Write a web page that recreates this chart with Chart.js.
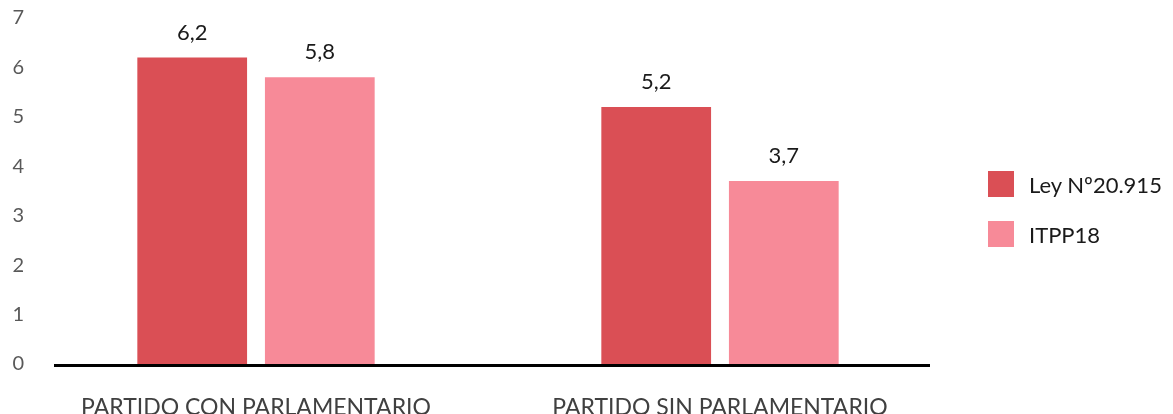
<!DOCTYPE html>
<html>
<head>
<meta charset="utf-8">
<script src="https://cdn.jsdelivr.net/npm/chart.js@4.4.1/dist/chart.umd.min.js"></script>
<style>
  body { margin: 0; background: #fff; }
  #wrap { position: relative; width: 1173px; height: 414px; }
  #legend { position: absolute; left: 988px; top: 171px; font-family: Lato, sans-serif; font-size: 22px; color: #1a1a1a; }
  .item { display: flex; align-items: center; height: 26px; margin-bottom: 24px; white-space: nowrap; }
  .sw { width: 26px; height: 26px; margin-right: 15px; }
</style>
</head>
<body>
<div id="wrap">
  <canvas id="chart" width="1173" height="414"></canvas>
  <div id="legend"></div>
</div>
<script>
// chart data
const categories = ['PARTIDO CON PARLAMENTARIO', 'PARTIDO SIN PARLAMENTARIO'];
const seriesNames = ['Ley Nº20.915', 'ITPP18'];
const leyValues = [6.2, 5.2];
const itppValues = [5.8, 3.7];
const colours = ['#DA4F55', '#F78A98'];

const FONT = 'Lato, sans-serif';

// value labels over each bar, with decimal comma
const valueLabels = {
  id: 'valueLabels',
  afterDatasetsDraw(chart) {
    const ctx = chart.ctx;
    ctx.save();
    ctx.font = '22px ' + FONT;
    ctx.fillStyle = '#1a1a1a';
    ctx.textAlign = 'center';
    ctx.textBaseline = 'middle';
    chart.data.datasets.forEach((ds, i) => {
      chart.getDatasetMeta(i).data.forEach((bar, j) => {
        ctx.fillText(String(ds.data[j]).replace('.', ','), bar.x, bar.y - 25);
      });
    });
    ctx.restore();
  }
};

// thick black base line
const baseLine = {
  id: 'baseLine',
  afterDatasetsDraw(chart) {
    const { ctx, chartArea } = chart;
    const y0 = chart.scales.y.getPixelForValue(0);
    ctx.save();
    ctx.strokeStyle = '#000';
    ctx.lineWidth = 3;
    ctx.beginPath();
    ctx.moveTo(chartArea.left + 30, y0 + 1.5);
    ctx.lineTo(chartArea.right - 22, y0 + 1.5);
    ctx.stroke();
    ctx.restore();
  }
};

new Chart(document.getElementById('chart'), {
  type: 'bar',
  data: {
    labels: categories,
    datasets: [
      { label: seriesNames[0], data: leyValues, backgroundColor: colours[0] },
      { label: seriesNames[1], data: itppValues, backgroundColor: colours[1] }
    ]
  },
  options: {
    responsive: false,
    animation: false,
    layout: { padding: { left: 0, right: 221, top: 18, bottom: 0 } },
    datasets: {
      bar: { categoryPercentage: 0.55, barPercentage: 0.86 }
    },
    scales: {
      x: {
        grid: { display: false, drawTicks: false },
        border: { display: false },
        ticks: { color: '#404040', font: { family: FONT, size: 23 }, padding: 30, maxRotation: 0 },
        afterFit(scale) { scale.height = 50; }
      },
      y: {
        min: 0, max: 7,
        grid: { display: false, drawTicks: false },
        border: { display: false },
        ticks: { stepSize: 1, color: '#595959', font: { family: FONT, size: 20 }, padding: 0 },
        afterFit(scale) { scale.width = 24; }
      }
    },
    plugins: {
      legend: { display: false },
      tooltip: { enabled: false }
    }
  },
  plugins: [valueLabels, baseLine]
});

// html legend
const legendEl = document.getElementById('legend');
seriesNames.forEach((name, i) => {
  const item = document.createElement('div');
  item.className = 'item';
  item.innerHTML = '<div class="sw" style="background:' + colours[i] + '"></div><span>' + name + '</span>';
  legendEl.appendChild(item);
});
</script>
</body>
</html>
